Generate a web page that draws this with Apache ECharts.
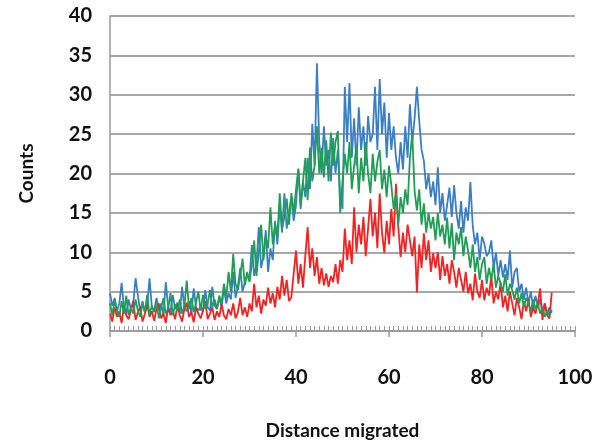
<!DOCTYPE html>
<html>
<head>
<meta charset="utf-8">
<script src="https://cdn.jsdelivr.net/npm/echarts@6/dist/echarts.min.js"></script>
<style>html,body{margin:0;padding:0;background:#fff}#c{width:602px;height:447px}</style>
</head>
<body>
<div id="c"></div>
<script>
// x positions start at 0 with a step of 0.5 (distance migrated)
const xStart = 0;
const xStep = 0.5;
const xTicks = [0, 20, 40, 60, 80, 100];
const yTicks = [0, 5, 10, 15, 20, 25, 30, 35, 40];

const blue = [
  4.8, 3.2, 4.2, 2.5, 3.5, 6.1, 3.0, 2.2, 4.0, 2.8,
  3.5, 6.7, 4.5, 2.5, 3.8, 2.3, 3.2, 6.7, 3.0, 2.4,
  4.2, 2.6, 3.5, 2.0, 6.2, 3.0, 2.4, 4.6, 2.8, 3.6,
  2.2, 5.6, 3.0, 2.5, 3.8, 2.2, 5.4, 3.0, 2.6, 3.2,
  2.4, 5.2, 3.0, 2.6, 5.6, 3.2, 2.8, 4.2, 3.0, 5.4,
  3.5, 4.8, 4.0, 7.5, 4.2, 5.6, 8.0, 5.0, 6.2, 7.0,
  6.5, 10.9, 7.0, 8.5, 13.2, 8.0, 9.5, 12.8, 7.5, 10.5,
  9.0, 14.0, 11.0, 16.0, 12.5, 17.5, 13.0, 15.0, 17.0, 14.0,
  16.0, 20.6, 15.5, 19.0, 17.0, 22.0, 18.0, 26.3, 21.0, 34.0,
  24.0, 20.0, 26.0, 21.0, 23.0, 19.0, 24.5, 20.0, 23.0, 17.0,
  15.5, 31.0, 24.0, 31.5, 22.0, 27.0, 21.0, 28.4, 23.0, 26.0,
  21.0, 27.3, 24.0, 25.0, 31.0, 23.0, 32.0, 25.0, 29.0, 22.0,
  27.7, 23.0, 26.0, 22.0, 20.0, 24.0, 20.5, 26.0, 22.0, 28.8,
  24.0, 27.0, 31.0, 26.7, 23.0, 21.6, 18.0, 20.0, 17.0, 19.0,
  16.0, 20.8, 15.0, 17.5, 14.0, 16.0, 18.2, 14.5, 18.5, 15.0,
  13.0, 16.5, 12.5, 15.7, 14.0, 18.9, 13.4, 11.0, 12.5, 9.0,
  12.0, 11.1, 9.5, 10.0, 11.5, 8.0, 10.0, 7.0, 9.0, 6.8,
  8.5, 6.5, 10.2, 5.5, 7.5, 8.0, 5.0, 6.0, 4.0, 5.5,
  3.5, 5.0, 3.0, 4.5, 3.0, 4.0, 2.5, 3.5, 2.2, 3.0, 2.3
];

const green = [
  3.5, 2.0, 4.0, 2.5, 1.8, 3.8, 2.2, 4.5, 2.0, 3.0,
  2.2, 4.0, 2.6, 1.8, 3.5, 2.4, 4.6, 2.0, 3.2, 2.5,
  3.8, 1.6, 3.0, 4.2, 2.2, 2.8, 4.8, 2.0, 3.4, 2.5,
  4.0, 2.2, 3.2, 6.4, 2.8, 4.2, 2.4, 3.6, 5.0, 2.6,
  4.6, 2.8, 3.4, 5.2, 3.0, 4.0, 2.8, 4.5, 3.5, 6.0,
  4.2, 7.5, 5.0, 9.8, 6.0, 5.2, 7.0, 9.2, 5.8, 7.5,
  6.2, 8.5, 11.5, 7.0, 10.0, 13.5, 9.0, 12.0, 10.5, 15.7,
  11.0, 13.5, 12.0, 17.5, 13.0, 14.5, 16.8, 13.5, 17.5, 15.0,
  18.0, 20.6, 16.0, 19.0, 22.0, 16.6, 23.3, 19.0, 21.0, 26.0,
  20.0, 23.3, 19.5, 24.2, 19.0, 25.2, 21.0, 24.0, 25.4, 15.0,
  19.0, 22.5, 20.0, 24.0, 18.0, 21.0, 23.5, 17.5, 22.0, 19.0,
  24.0, 20.0, 17.5, 22.5, 19.0, 21.5, 23.0, 18.0, 20.5, 17.0,
  21.0, 18.5, 15.5, 17.5, 13.5, 17.0, 15.0, 18.0, 16.0, 22.0,
  25.0, 17.8, 15.3, 18.0, 13.5, 16.2, 12.5, 15.0, 13.0, 14.5,
  11.5, 15.0, 12.0, 13.5, 11.0, 14.4, 10.5, 13.7, 9.0, 12.5,
  11.0, 13.2, 9.5, 12.0, 10.2, 8.0, 11.0, 7.5, 9.4, 6.5,
  8.5, 9.4, 6.0, 8.0, 6.5, 8.5, 5.5, 7.0, 6.0, 5.0,
  7.2, 4.5, 6.0, 5.2, 4.0, 5.5, 3.5, 4.8, 3.0, 4.2,
  3.5, 2.5, 4.0, 2.8, 3.5, 2.2, 3.0, 1.8, 2.5, 2.0, 2.6
];

const red = [
  2.2, 1.2, 3.0, 1.8, 2.5, 1.0, 3.2, 2.0, 1.5, 2.6,
  3.8, 1.4, 2.4, 3.0, 1.2, 2.2, 3.4, 1.8, 2.5, 1.3,
  2.8, 3.5, 1.6, 2.2, 1.0, 3.0, 2.0, 2.6, 1.5, 3.3,
  2.0, 1.2, 2.8, 3.6, 1.8, 2.4, 1.1, 3.0, 2.2, 1.6,
  2.6, 3.8, 1.5, 2.2, 3.0, 1.4, 2.5, 1.8, 3.4, 2.0,
  1.5, 2.8, 2.0, 3.5, 1.6, 2.4, 4.2, 2.0, 3.0, 1.8,
  3.5, 2.5, 6.0, 3.0, 4.5, 2.2, 4.0, 3.2, 5.5, 3.5,
  4.8, 3.0, 5.6, 4.0, 7.0, 4.5, 6.5, 3.8, 4.3, 7.3,
  10.2, 6.0, 8.5, 5.5, 9.5, 13.2, 8.0, 10.5, 7.0, 9.4,
  6.0, 8.0, 5.8, 7.3, 5.6, 7.0, 6.2, 8.5, 6.0, 9.0,
  7.5, 13.0, 9.0, 11.5, 8.5, 15.7, 10.0, 13.5, 11.0, 14.5,
  9.5, 13.0, 16.8, 12.0, 15.0, 10.5, 17.5, 12.5, 9.9, 14.0,
  11.0, 15.5, 12.0, 18.7, 13.2, 9.4, 12.5, 10.0, 13.5, 11.5,
  9.5, 12.0, 4.9, 11.0, 8.0, 12.4, 9.0, 11.5, 7.5, 9.9,
  8.0, 10.0, 6.5, 9.5, 7.0, 8.5, 6.0, 9.0, 7.5, 5.5,
  8.0, 6.5, 5.0, 7.5, 4.8, 6.0, 3.9, 7.3, 5.0, 4.2,
  6.5, 3.9, 5.5, 4.5, 7.0, 3.5, 5.0, 4.0, 6.2, 3.0,
  4.5, 2.5, 5.0, 3.5, 2.0, 4.2, 3.0, 1.5, 3.8, 2.5,
  4.0, 1.8, 3.0, 2.2, 3.5, 5.4, 1.4, 3.5, 2.0, 1.6, 4.9
];

function pairs(vals) {
  return vals.map((v, i) => [xStart + i * xStep, v]);
}

const font = 'Lato, "Open Sans", sans-serif';
const chart = echarts.init(document.getElementById('c'), null, {renderer: 'canvas'});
chart.setOption({
  animation: false,
  backgroundColor: '#ffffff',
  grid: {left: 110, right: 27, top: 16, bottom: 116, containLabel: false},
  xAxis: [
    {
      type: 'value', min: xTicks[0], max: xTicks[xTicks.length - 1], interval: 20,
      name: 'Distance migrated', nameLocation: 'middle', nameGap: 90,
      nameTextStyle: {fontFamily: font, fontWeight: 'bold', fontSize: 19, color: '#111'},
      axisLine: {show: true, lineStyle: {color: '#9a9a9a', width: 1.5}},
      axisTick: {show: true, inside: false, length: 6, lineStyle: {color: '#9a9a9a', width: 1.5}},
      axisLabel: {margin: 37, fontFamily: font, fontWeight: 'bold', fontSize: 20, color: '#111'},
      splitLine: {show: false}
    },
    {
      type: 'value', min: 0, max: 100, interval: 1, position: 'bottom',
      axisLine: {show: false},
      axisTick: {show: true, inside: true, length: 5, lineStyle: {color: '#9a9a9a', width: 1}},
      axisLabel: {show: false},
      splitLine: {show: false}
    }
  ],
  yAxis: {
    type: 'value', min: yTicks[0], max: yTicks[yTicks.length - 1], interval: 5,
    name: 'Counts', nameLocation: 'middle', nameGap: 74, nameRotate: 90,
    nameTextStyle: {fontFamily: font, fontWeight: 'bold', fontSize: 19, color: '#111'},
    axisLine: {show: true, lineStyle: {color: '#9a9a9a', width: 1.5}},
    axisTick: {show: false},
    axisLabel: {margin: 18, fontFamily: font, fontWeight: 'bold', fontSize: 20, color: '#111'},
    splitLine: {show: true, lineStyle: {color: '#8a8a8a', width: 1.5}}
  },
  series: [
    {type: 'line', data: pairs(blue), showSymbol: false, lineStyle: {color: '#3a7fc6', width: 1.8}, itemStyle: {color: '#3a7fc6'}, z: 2},
    {type: 'line', data: pairs(red), showSymbol: false, lineStyle: {color: '#f52222', width: 1.8}, itemStyle: {color: '#f52222'}, z: 3},
    {type: 'line', data: pairs(green), showSymbol: false, lineStyle: {color: '#1f9e55', width: 1.8}, itemStyle: {color: '#1f9e55'}, z: 4}
  ]
});
</script>
</body>
</html>
